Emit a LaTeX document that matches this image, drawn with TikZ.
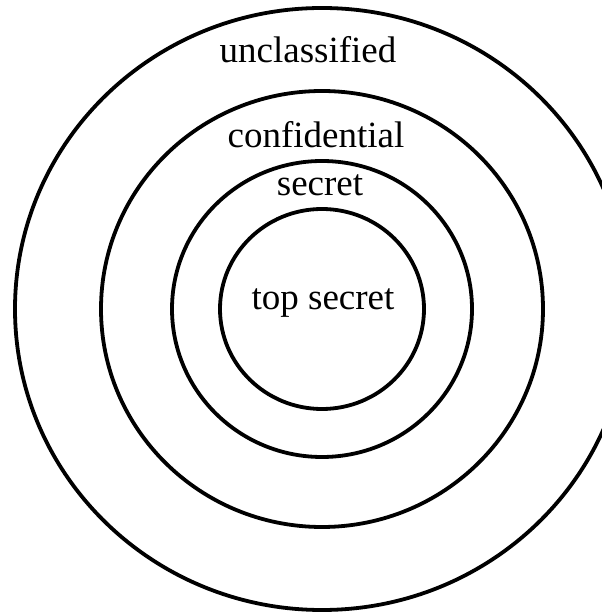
\documentclass[tikz,border=0pt]{standalone}
\usepackage{fontspec}
\setmainfont{Liberation Serif}
\usetikzlibrary{shapes.geometric}
\definecolor{LvlInk}{RGB}{0,0,0}
\tikzset{
  lvl/ring/.style={
    ellipse,
    draw=LvlInk,
    line width=3.8pt,
    inner sep=0pt
  },
  lvl/tag/.style={
    anchor=base,
    inner sep=0pt,
    text=LvlInk,
    font=\fontsize{37}{40}\selectfont
  }
}

\begin{document}
\begin{tikzpicture}[x=1pt,y=1pt]
  \useasboundingbox (0,0) rectangle (602,613);
  \coordinate (c) at (322,304);
  \node[lvl/ring,minimum width=614pt,minimum height=602pt] (unclass) at (c) {};
  \node[lvl/ring,minimum width=442pt,minimum height=436pt] (conf) at (c) {};
  \node[lvl/ring,minimum width=300pt,minimum height=296pt] (sec) at (c) {};
  \node[lvl/ring,minimum width=204pt,minimum height=200pt] (topsec) at (c) {};
  \node[lvl/tag] (unclasslbl) at (308,550) {unclassified};
  \node[lvl/tag] (conflbl) at (316,465) {confidential};
  \node[lvl/tag] (seclbl) at (320,417) {secret};
  \node[lvl/tag] (topseclbl) at (323,303) {top secret};
\end{tikzpicture}
\end{document}
